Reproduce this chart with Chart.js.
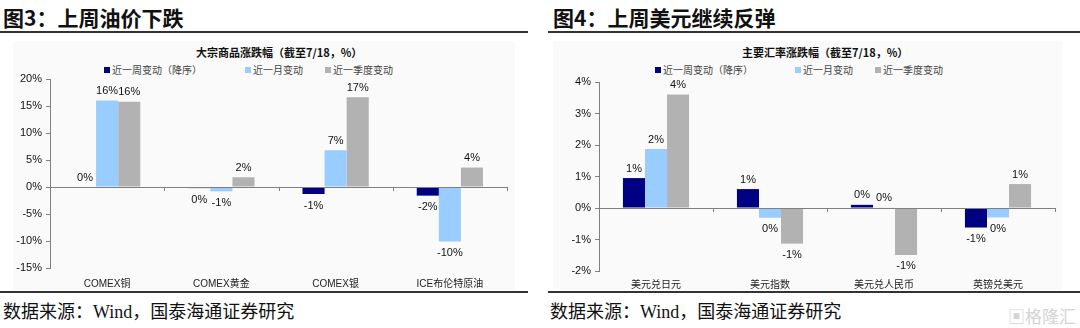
<!DOCTYPE html>
<html>
<head>
<meta charset="utf-8">
<script src="https://cdn.jsdelivr.net/npm/chart.js@4"></script>
<style>
  body { margin: 0; width: 1080px; height: 328px; background: #fff; position: relative; overflow: hidden;
         font-family: "Liberation Sans", "Noto Sans CJK SC", sans-serif; }
  .fig { position: absolute; top: 4px; font-family: "Noto Sans CJK SC", sans-serif; font-weight: bold;
         font-size: 21px; line-height: 26px; color: #111; }
  .rule { position: absolute; height: 2px; background: #333; }
  .src { position: absolute; top: 300px; font-family: "Liberation Serif", "Noto Sans CJK SC", serif;
         font-size: 18px; line-height: 24px; color: #111; }
  .box { position: absolute; top: 41px; height: 249px; background: #fafafa; }
  .ctitle { position: absolute; top: 44px; font-family: "Noto Sans CJK SC", sans-serif; font-weight: bold;
            font-size: 11px; color: #111; white-space: nowrap; }
  .leg { position: absolute; top: 62px; font-family: "Noto Sans CJK SC", sans-serif; font-size: 10px;
         color: #444; white-space: nowrap; }
  .leg i { display: inline-block; width: 6px; height: 6px; margin-right: 2px; vertical-align: 1px; }
  canvas { position: absolute; top: 41px; }
  .mark { position: absolute; left: 1008px; top: 303px; font-family: "Noto Sans CJK SC", sans-serif;
          font-size: 17px; color: #d4d4d4; }
</style>
</head>
<body>
<div class="fig" style="left:3px">图3：上周油价下跌</div>
<div class="fig" style="left:553px">图4：上周美元继续反弹</div>
<div class="rule" style="left:0;width:528px;top:31px"></div>
<div class="rule" style="left:548px;width:532px;top:31px"></div>

<div class="box" style="left:13px;width:502px"></div>
<div class="box" style="left:553px;width:509px"></div>

<div class="ctitle" style="left:196px">大宗商品涨跌幅（截至7/18，%）</div>
<div class="ctitle" style="left:742px">主要汇率涨跌幅（截至7/18，%）</div>

<div class="leg" style="left:104px"><i style="background:#000080"></i>近一周变动（降序）</div>
<div class="leg" style="left:245px"><i style="background:#99ccff"></i>近一月变动</div>
<div class="leg" style="left:325px"><i style="background:#b2b2b2"></i>近一季度变动</div>
<div class="leg" style="left:655px"><i style="background:#000080"></i>近一周变动（降序）</div>
<div class="leg" style="left:795px"><i style="background:#99ccff"></i>近一月变动</div>
<div class="leg" style="left:875px"><i style="background:#b2b2b2"></i>近一季度变动</div>

<canvas id="chart3" width="502" height="259" style="left:13px"></canvas>
<canvas id="chart4" width="509" height="258" style="left:553px"></canvas>

<div class="rule" style="left:0;width:528px;top:291px"></div>
<div class="rule" style="left:548px;width:532px;top:291px"></div>
<div class="src" style="left:3px">数据来源：Wind，国泰海通证券研究</div>
<div class="src" style="left:550px">数据来源：Wind，国泰海通证券研究</div>
<div class="mark">▣格隆汇</div>

<script>
// Series names
const seriesNames = ["近一周变动（降序）", "近一月变动", "近一季度变动"];
const seriesColors = ["#000080", "#99ccff", "#b2b2b2"];

// Figure 3 - commodities
const goodsLabels = ["COMEX铜", "COMEX黄金", "COMEX银", "ICE布伦特原油"];
const goodsWeek = [0, -0.2, -1.3, -1.6];
const goodsMonth = [16.0, -0.8, 6.8, -10.1];
const goodsQuarter = [15.8, 1.8, 16.6, 3.6];
const goodsTicks = [-15, -10, -5, 0, 5, 10, 15, 20];

// Figure 4 - currencies
const fxLabels = ["美元兑日元", "美元指数", "美元兑人民币", "英镑兑美元"];
const fxWeek = [0.95, 0.6, 0.1, -0.62];
const fxMonth = [1.87, -0.31, 0.02, -0.3];
const fxQuarter = [3.6, -1.13, -1.49, 0.76];
const fxTicks = [-2, -1, 0, 1, 2, 3, 4];

const fontLatin = "'Liberation Sans', 'Noto Sans CJK SC', sans-serif";

// Value labels above / below each bar
const valueLabels = {
    id: "valueLabels",
    afterDatasetsDraw(chart) {
        const ctx = chart.ctx;
        ctx.save();
        ctx.font = "11px " + fontLatin;
        ctx.fillStyle = "#111";
        ctx.textAlign = "center";
        chart.data.datasets.forEach((ds, i) => {
            chart.getDatasetMeta(i).data.forEach((bar, j) => {
                const v = ds.data[j];
                const txt = Math.round(v) + "%";
                if (v >= 0) {
                    ctx.textBaseline = "bottom";
                    ctx.fillText(txt, bar.x, bar.y - 4);
                } else {
                    ctx.textBaseline = "top";
                    ctx.fillText(txt, bar.x, bar.y + 6);
                }
            });
        });
        ctx.restore();
    }
};

// Small tick marks on the zero line between categories
const zeroTicks = {
    id: "zeroTicks",
    afterDatasetsDraw(chart) {
        const ctx = chart.ctx;
        const x = chart.scales.x;
        const y0 = chart.scales.y.getPixelForValue(0);
        const n = chart.data.labels.length;
        const step = (x.right - x.left) / n;
        ctx.save();
        ctx.strokeStyle = "#808080";
        ctx.lineWidth = 1;
        ctx.beginPath();
        ctx.moveTo(x.left, y0 + 0.5);
        ctx.lineTo(x.right, y0 + 0.5);
        for (let k = 1; k <= n; k++) {
            const px = Math.round(x.left + step * k) + 0.5;
            ctx.moveTo(px, y0);
            ctx.lineTo(px, y0 + 4);
        }
        ctx.stroke();
        ctx.restore();
    }
};

function makeChart(id, labels, week, month, quarter, ticks, axisWidth, pad) {
    const data = [week, month, quarter];
    return new Chart(document.getElementById(id), {
        type: "bar",
        data: {
            labels: labels,
            datasets: data.map((d, i) => ({
                label: seriesNames[i],
                data: d,
                backgroundColor: seriesColors[i],
                categoryPercentage: 0.58,
                barPercentage: 1.0
            }))
        },
        options: {
            responsive: false,
            animation: false,
            layout: { padding: pad },
            plugins: {
                legend: { display: false },
                title: { display: false },
                tooltip: { enabled: false }
            },
            scales: {
                x: {
                    grid: { display: false, drawTicks: false },
                    border: { display: false },
                    ticks: {
                        padding: pad.xPad,
                        color: "#222",
                        font: { size: 10, family: fontLatin }
                    }
                },
                y: {
                    min: ticks[0],
                    max: ticks[ticks.length - 1],
                    afterBuildTicks: (s) => { s.ticks = ticks.map(v => ({ value: v })); },
                    afterFit: (s) => { s.width = axisWidth; },
                    grid: {
                        drawOnChartArea: false,
                        tickLength: 4,
                        tickColor: "#808080"
                    },
                    border: { display: true, color: "#808080" },
                    ticks: {
                        padding: 4,
                        color: "#111",
                        font: { size: 11, family: fontLatin },
                        callback: (v) => v + "%"
                    }
                }
            }
        },
        plugins: [zeroTicks, valueLabels]
    });
}

makeChart("chart3", goodsLabels, goodsWeek, goodsMonth, goodsQuarter, goodsTicks, 37,
    { top: 38, right: 8, bottom: 0, left: 0, xPad: 10 });
makeChart("chart4", fxLabels, fxWeek, fxMonth, fxQuarter, fxTicks, 46,
    { top: 41, right: 7, bottom: 0, left: 0, xPad: 8 });
</script>
</body>
</html>
